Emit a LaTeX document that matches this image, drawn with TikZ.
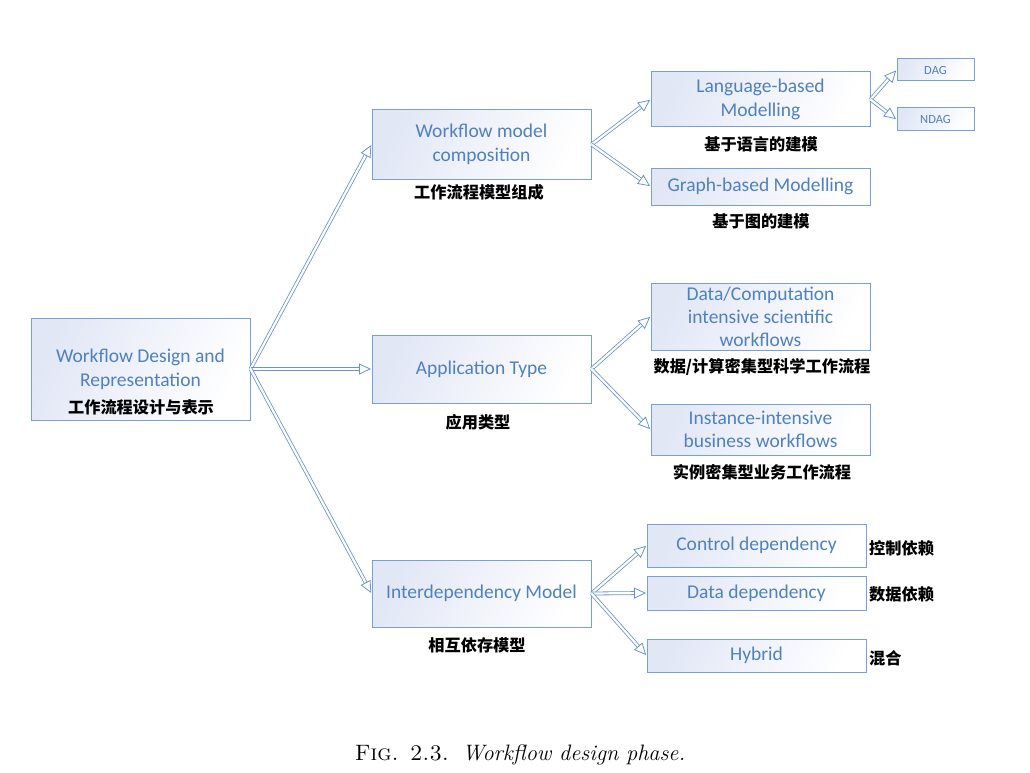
\documentclass[tikz,border=0pt]{standalone}
\usepackage{fontspec}
\newfontfamily\carlito{Carlito}
\newfontfamily\cjk{Noto Sans CJK SC}
\usetikzlibrary{arrows.meta}
\definecolor{boxline}{RGB}{120,160,210}
\definecolor{arrline}{RGB}{105,148,202}
\definecolor{txtblue}{RGB}{79,129,189}
\definecolor{shadec}{RGB}{226,231,246}
\tikzset{
  box/.style={draw=boxline, line width=1pt, left color=shadec, right color=white, shading angle=65,
    font=\carlito\fontsize{19.5}{23.5}\selectfont, text=txtblue, align=center, inner sep=0pt},
  small/.style={box, font=\carlito\fontsize{12.5}{14}\selectfont},
  zh/.style={font=\cjk\bfseries\fontsize{16.2}{19}\selectfont, text=black, inner sep=0pt},
  conn/.style={draw=arrline, line width=0.8pt, double=white, double distance=2.2pt,
    -{Triangle[open, length=12pt, width=11pt]}, shorten >=0.5pt}
}
\begin{document}
\begin{tikzpicture}[x=1pt,y=-1pt]
\useasboundingbox (0,0) rectangle (1030,773);
% root
\node[box, minimum width=219pt, minimum height=102pt] (root) at (140.5,369) {};
\node[font=\carlito\fontsize{19.5}{24}\selectfont, text=txtblue, align=center] (roott) at (140.5,369) {Workflow Design and\\Representation};
\node[zh] (rootz) at (141,407) {工作流程设计与表示};
% level 1
\node[box, minimum width=219pt, minimum height=69pt] (wmc) at (481.5,144.5) {Workflow model\\composition};
\node[zh] (wmcz) at (479,192) {工作流程模型组成};
\node[box, minimum width=219pt, minimum height=68pt] (app) at (481.5,369) {Application Type};
\node[zh] (appz) at (478,422) {应用类型};
\node[box, minimum width=219pt, minimum height=67pt] (inter) at (481.5,593.5) {Interdependency Model};
\node[zh] (interz) at (477,645) {相互依存模型};
% level 2
\node[box, minimum width=219pt, minimum height=55pt] (lang) at (760.5,99.5) {Language-based\\Modelling};
\node[zh] (langz) at (761,144) {基于语言的建模};
\node[box, minimum width=219pt, minimum height=37pt] (graph) at (760.5,186.5) {Graph-based Modelling};
\node[zh] (graphz) at (761,221) {基于图的建模};
\node[small, minimum width=77pt, minimum height=22pt] (dag) at (935.5,70) {DAG};
\node[small, minimum width=77pt, minimum height=23pt] (ndag) at (935.5,119.5) {NDAG};
\node[box, minimum width=219pt, minimum height=67pt, font=\carlito\fontsize{19.5}{23}\selectfont] (data) at (760.5,316.5) {Data/Computation\\intensive scientific\\workflows};
\node[zh] (dataz) at (762,367) {数据/计算密集型科学工作流程};
\node[box, minimum width=219pt, minimum height=51pt] (inst) at (760.5,429.5) {Instance-intensive\\business workflows};
\node[zh] (instz) at (762,472) {实例密集型业务工作流程};
\node[box, minimum width=219pt, minimum height=43pt] (ctrl) at (756.5,545.5) {Control dependency};
\node[zh, anchor=west] (ctrlz) at (869,548) {控制依赖};
\node[box, minimum width=219pt, minimum height=34pt] (dd) at (756.5,593) {Data dependency};
\node[zh, anchor=west] (ddz) at (869,594) {数据依赖};
\node[box, minimum width=219pt, minimum height=33pt] (hyb) at (756.5,655.5) {Hybrid};
\node[zh, anchor=west] (hybz) at (869,658) {混合};
% connectors
\coordinate (r) at (root.east);
\draw[conn] (r) -- (wmc.west);
\draw[conn] (r) -- (app.west);
\draw[conn] (r) -- (inter.west);
\draw[conn] (wmc.east) -- (lang.west);
\draw[conn] (wmc.east) -- (graph.west);
\draw[conn] (lang.east) -- (dag.west);
\draw[conn] (lang.east) -- (ndag.west);
\draw[conn] (app.east) -- (data.west);
\draw[conn] (app.east) -- (inst.west);
\draw[conn] (inter.east) -- (ctrl.west);
\draw[conn] (inter.east) -- (dd.west);
\draw[conn] (inter.east) -- (hyb.west);
% caption
\node[font=\fontsize{22.3}{26}\selectfont] (cap) at (520,755) {\textsc{Fig. 2.3.}\ \ \textit{Workflow design phase.}};
\end{tikzpicture}
\end{document}
